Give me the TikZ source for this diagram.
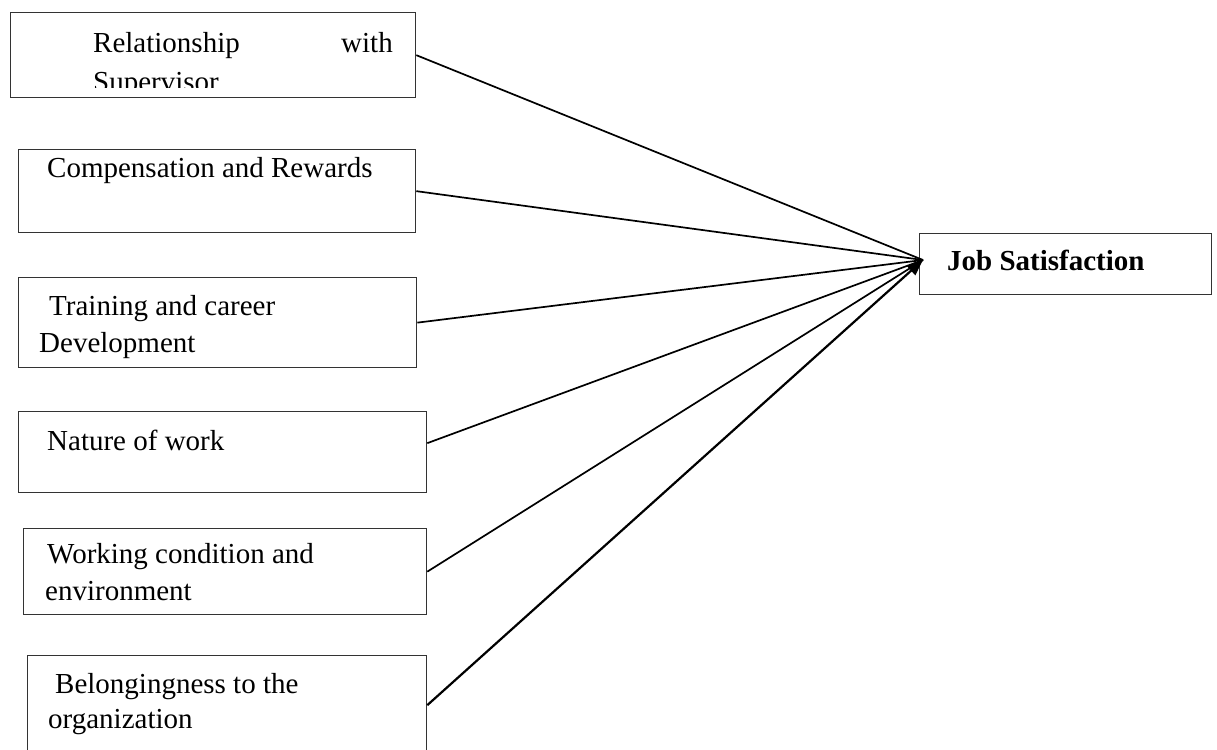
\documentclass[tikz,border=0pt]{standalone}
\usepackage{fontspec}
\setmainfont{Liberation Serif}
\usetikzlibrary{arrows.meta}
\begin{document}
\begin{tikzpicture}[x=1pt,y=-1pt,
  boxsty/.style={draw=black!80,line width=1.3pt,rectangle,inner sep=0pt,anchor=north west},
  txt/.style={inner sep=0pt,anchor=base west,font=\fontsize{29}{37}\selectfont},
  conn/.style={draw=black,line width=1.7pt}]
\useasboundingbox (0,0) rectangle (1217,749);
% boxes
\node[boxsty,minimum width=405,minimum height=85] (b1) at (10,12) {};
\node[boxsty,minimum width=397,minimum height=83] (b2) at (18,149) {};
\node[boxsty,minimum width=398,minimum height=90] (b3) at (18,277) {};
\node[boxsty,minimum width=408,minimum height=81] (b4) at (18,411) {};
\node[boxsty,minimum width=403,minimum height=86] (b5) at (23,528) {};
\node[boxsty,minimum width=399,minimum height=97] (b6) at (27,655) {};
\node[boxsty,minimum width=292,minimum height=61] (job) at (919,233) {};
% texts
\begin{scope}
\clip (0,0) rectangle (1217,88);
\node[txt] (t1a) at (93,53) {Relationship};
\node[txt,anchor=base east] (t1b) at (393,53) {with};
\node[txt] (t1c) at (93,92) {Supervisor};
\end{scope}
\node[txt] (t2) at (47,177) {Compensation and Rewards};
\node[txt] (t3a) at (49,315) {Training and career};
\node[txt] (t3b) at (39,352) {Development};
\node[txt] (t4) at (47,450) {Nature of work};
\node[txt] (t5a) at (47,563) {Working condition and};
\node[txt] (t5b) at (45,600) {environment};
\node[txt] (t6a) at (55,693) {Belongingness to the};
\node[txt] (t6b) at (48,728) {organization};
\node[txt,font=\fontsize{29}{37}\selectfont\bfseries] (tj) at (947,270) {Job Satisfaction};
% connectors
\coordinate (tip) at (923,260);
\draw[conn] (b1.east) -- (tip);
\draw[conn] (b2.east) -- (tip);
\draw[conn] (b3.east) -- (tip);
\draw[conn] ([yshift=9pt]b4.east) -- (tip);
\draw[conn] (b5.east) -- (tip);
\draw[conn,line width=2.2pt,-{Triangle[length=16pt,width=12pt]}] ([yshift=-1pt]b6.east) -- (tip);
\end{tikzpicture}
\end{document}
